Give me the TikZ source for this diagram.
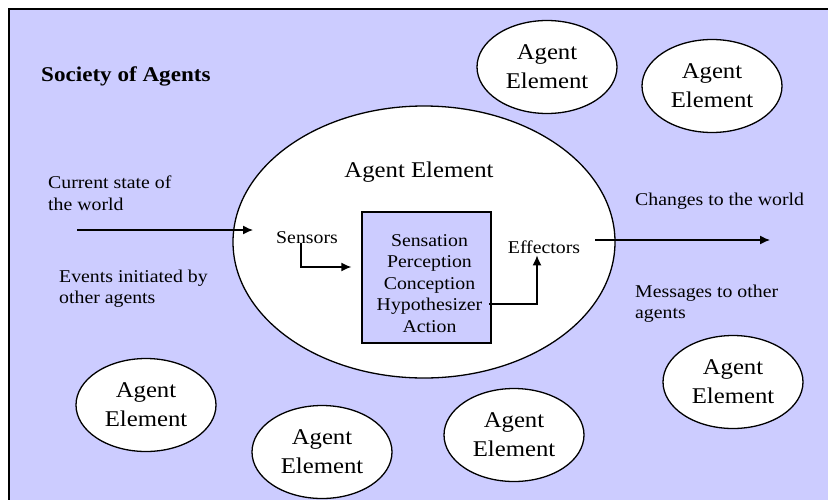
\documentclass[tikz,border=0pt]{standalone}
\usepackage{fontspec}
\setmainfont{Liberation Serif}[FakeStretch=1.1]
\usetikzlibrary{shapes.geometric, arrows.meta}
\definecolor{society}{HTML}{CCCCFF}

\begin{document}
\begin{tikzpicture}[x=1pt, y=-1pt]
\tikzstyle{agent}=[ellipse, draw=black, line width=1.3pt, fill=white, minimum width=140pt, minimum height=93pt, inner sep=0pt, align=center, font=\fontsize{22.5}{29}\selectfont]
\tikzstyle{note}=[inner sep=2pt, align=left, font=\fontsize{18}{21.5}\selectfont]
\tikzstyle{connect}=[-{Latex[length=10pt, width=9pt]}, line width=1.3pt]
\useasboundingbox (0,0) rectangle (828,499);
\clip (0,0) rectangle (828,499);
\draw[fill=society, line width=2pt] (9,9) rectangle (850,520);
\node[anchor=base west, inner sep=0pt, font=\fontsize{21}{25}\selectfont\bfseries] (title) at (41,81) {Society of Agents};
% the agent element in the middle
\node[agent, minimum width=382pt, minimum height=272pt] (self) at (424,242) {};
\node[note, font=\fontsize{22.5}{29}\selectfont] (selfname) at (419,172) {Agent Element};
\node[draw, fill=society, line width=1.3pt, minimum width=129pt, minimum height=131pt] (core) at (426.5,277.5) {};
\node[note, align=center] (stages) at ([xshift=3pt, yshift=-6pt]core.center) {Sensation\\Perception\\Conception\\Hypothesizer\\Action};
\node[note, anchor=base] (sensors) at (307,243) {Sensors};
\node[note, anchor=base] (effectors) at (544,253) {Effectors};
\coordinate (hypo) at (489,304);
% inputs and outputs
\node[note, anchor=north west] (curstate) at (46,174) {Current state of\\the world};
\node[note, anchor=north west] (events) at (57,267.5) {Events initiated by\\other agents};
\node[note, anchor=north west] (changes) at (633,190.7) {Changes to the world};
\node[note, anchor=north west] (messages) at (633,282.7) {Messages to other\\agents};
\coordinate (worldin) at (77,230);
\coordinate (sensin) at (253,230);
\coordinate (effout) at (595,240);
\coordinate (worldout) at (770,240);
% the other agents
\node[agent] (agenta) at (547,67) {Agent\\Element};
\node[agent] (agentb) at (712,86) {Agent\\Element};
\node[agent] (agentc) at (146,405) {Agent\\Element};
\node[agent] (agentd) at (322,452) {Agent\\Element};
\node[agent] (agente) at (514,435) {Agent\\Element};
\node[agent] (agentf) at (733,382) {Agent\\Element};
\draw[connect] (worldin) -- (sensin);
\draw[connect] (effout) -- (worldout);
\draw[connect] ([xshift=-6pt]sensors.base) |- ([xshift=-10pt, yshift=10.5pt]core.west);
\draw[connect] (hypo) -| ([xshift=-7pt]effectors.south);
\end{tikzpicture}
\end{document}
